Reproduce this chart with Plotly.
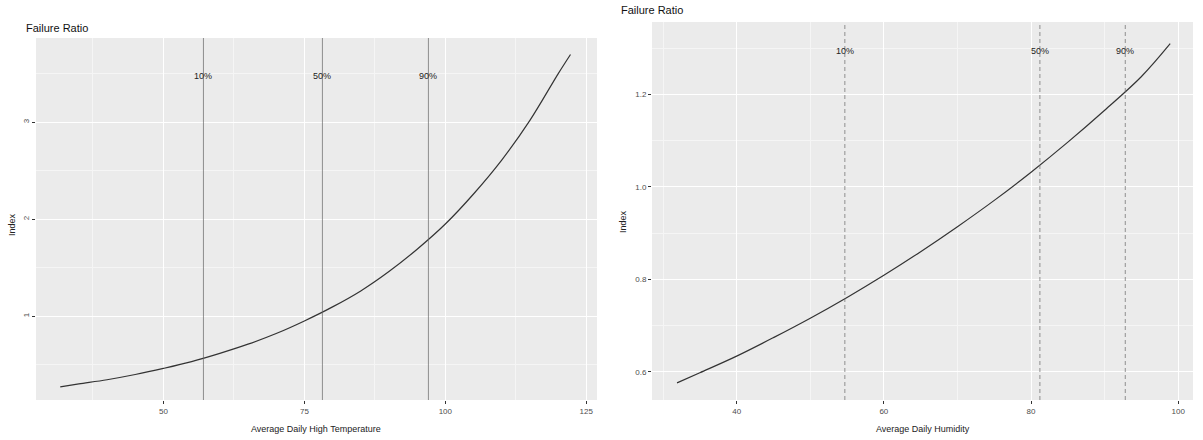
import plotly.graph_objects as go

# Left panel: failure ratio vs temperature
temp_x = [31.7, 35, 40, 45, 50, 55, 60, 65, 70, 75, 80, 85, 90, 95, 100, 105, 110, 115, 120, 122.2]
temp_y = [0.27, 0.30, 0.343, 0.397, 0.46, 0.53, 0.615, 0.71, 0.82, 0.95, 1.095, 1.26, 1.46, 1.69, 1.95, 2.26, 2.61, 3.02, 3.50, 3.70]
temp_q = [57.1, 78.2, 97.0]

# Right panel: failure ratio vs humidity
hum_x = [31.9, 35, 40, 45, 50, 55, 60, 65, 70, 75, 80, 85, 90, 95, 98.9]
hum_y = [0.576, 0.598, 0.634, 0.674, 0.716, 0.761, 0.809, 0.86, 0.914, 0.971, 1.032, 1.097, 1.166, 1.239, 1.31]
hum_q = [54.7, 81.2, 92.8]

q_labels = ["10%", "50%", "90%"]

W, H = 1203, 440
FONT = "Liberation Sans, Arial, sans-serif"
PANEL = "#EBEBEB"
TICKC = "#4D4D4D"

fig = go.Figure()

fig.add_trace(go.Scatter(x=temp_x, y=temp_y, mode="lines", line=dict(color="#333333", width=1.2, shape="spline"),
                         xaxis="x", yaxis="y", showlegend=False))
fig.add_trace(go.Scatter(x=hum_x, y=hum_y, mode="lines", line=dict(color="#333333", width=1.2, shape="spline"),
                         xaxis="x2", yaxis="y2", showlegend=False))

left_yr = [0.134, 3.87]
right_yr = [0.539, 1.357]

for q, lab in zip(temp_q, q_labels):
    fig.add_shape(type="line", x0=q, x1=q, y0=left_yr[0], y1=left_yr[1], xref="x", yref="y",
                  line=dict(color="#666666", width=0.7), layer="above")
    fig.add_annotation(x=q, y=3.48, xref="x", yref="y", text=lab, showarrow=False,
                       font=dict(family=FONT, size=9, color="#222222"))
for q, lab in zip(hum_q, q_labels):
    fig.add_shape(type="line", x0=q, x1=q, y0=right_yr[0], y1=right_yr[1], xref="x2", yref="y2",
                  line=dict(color="#666666", width=0.7, dash="4px,3px"), layer="above")
    fig.add_annotation(x=q, y=1.295, xref="x2", yref="y2", text=lab, showarrow=False,
                       font=dict(family=FONT, size=9, color="#222222"))

def ax(domain, rng, dtick, anchor, **kw):
    d = dict(domain=domain, range=rng, dtick=dtick, tick0=0, anchor=anchor, automargin=False,
             showgrid=True, gridcolor="white", gridwidth=1.1,
             minor=dict(dtick=dtick / 2, tick0=0, showgrid=True, gridcolor="#F5F5F5", gridwidth=0.6),
             ticks="outside", ticklen=3, tickcolor="#333333", tickwidth=1,
             tickfont=dict(family=FONT, size=8, color=TICKC),
             zeroline=False, showline=False)
    d.update(kw)
    return d

fig.update_layout(
    width=W, height=H,
    margin=dict(l=0, r=0, t=0, b=0, autoexpand=False),
    paper_bgcolor="white", plot_bgcolor=PANEL,
    xaxis=ax([36 / W, 597 / W], [27.4, 126.9], 25, "y"),
    yaxis=ax([40 / H, 402 / H], left_yr, 1, "x", tickangle=-90),
    xaxis2=ax([652 / W, 1193 / W], [28.5, 102.0], 20, "y2"),
    yaxis2=ax([40 / H, 418 / H], right_yr, 0.2, "x2", tickformat=".1f"),
)

def txt(x, y, s, size=9, angle=0, color="#222222", xanchor="center"):
    fig.add_annotation(x=x / W, y=1 - y / H, xref="paper", yref="paper", text=s, showarrow=False,
                       textangle=angle, xanchor=xanchor, yanchor="middle",
                       font=dict(family=FONT, size=size, color=color))

txt(24, 28, "Failure Ratio", size=11, xanchor="left", color="#111111")
txt(619, 10, "Failure Ratio", size=11, xanchor="left", color="#111111")
txt(12, 225, "Index", size=9, angle=-90)
txt(623, 222, "Index", size=9, angle=-90)
txt(316, 429, "Average Daily High Temperature", size=9)
txt(923, 429, "Average Daily Humidity", size=9)

fig.write_html("out.html", config={"displayModeBar": False},
               post_script="document.body.style.margin='0';document.body.style.overflow='hidden';")
